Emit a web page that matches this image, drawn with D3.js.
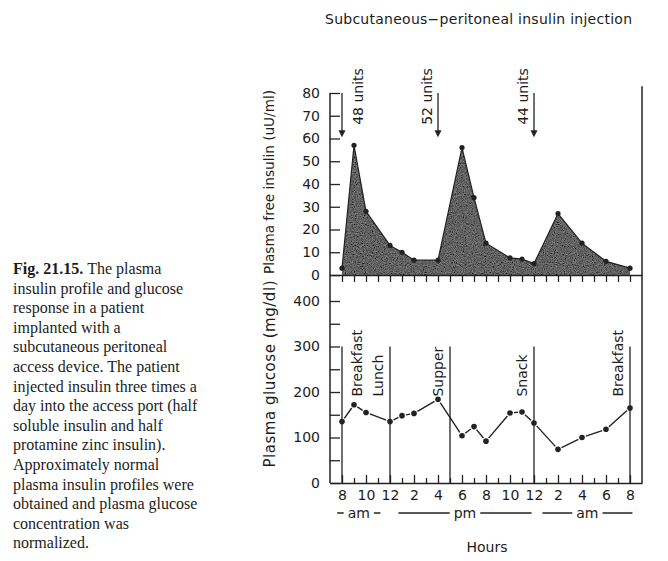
<!DOCTYPE html>
<html>
<head>
<meta charset="utf-8">
<script src="https://cdn.jsdelivr.net/npm/d3@7"></script>
<style>
  body { margin: 0; background: #fff; }
  svg { display: block; }
</style>
</head>
<body>
<script>
// insulin profile (top panel), hours counted from midnight of day 1
const insulinHours = [8, 9, 10, 12, 13, 14, 16, 18, 19, 20, 22, 23, 24, 26, 28, 30, 32];
const insulinValues = [3, 57, 28, 13, 10, 6.5, 6.5, 56, 34, 14, 7.5, 7, 5, 27, 14, 6, 3];

// glucose response (bottom panel)
const glucoseHours = [8, 9, 10, 12, 13, 14, 16, 18, 19, 20, 22, 23, 24, 26, 28, 30, 32];
const glucoseValues = [135, 172, 155, 135, 148, 153, 184, 104, 124, 92, 154, 156, 132, 74, 100, 118, 165];

const mealHours = [8, 12, 17, 24, 32];
const mealLabels = ["Breakfast", "Lunch", "Supper", "Snack", "Breakfast"];

const injectionHours = [8, 16, 24];
const injectionUnits = [48, 52, 44];

const hourTicks = [8, 10, 12, 14, 16, 18, 20, 22, 24, 26, 28, 30, 32];
const hourLabels = ["8", "10", "12", "2", "4", "6", "8", "10", "12", "2", "4", "6", "8"];

const periodLabels = ["am", "pm", "am"];
const periodStart = [7.6, 12.7, 24.7];
const periodEnd = [11.2, 23.8, 32.2];

const insulinTicks = [0, 10, 20, 30, 40, 50, 60, 70, 80];
const glucoseTicks = [0, 50, 100, 150, 200, 250, 300, 350, 400];

const captionLines = [
  "The plasma",
  "insulin profile and glucose",
  "response in a patient",
  "implanted with a",
  "subcutaneous peritoneal",
  "access device. The patient",
  "injected insulin three times a",
  "day into the access port (half",
  "soluble insulin and half",
  "protamine zinc insulin).",
  "Approximately normal",
  "plasma insulin profiles were",
  "obtained and plasma glucose",
  "concentration was",
  "normalized."
];

const W = 668, H = 561;
const font = "'DejaVu Sans', sans-serif";
const ink = "#1c1c1c";

const svg = d3.select("body").append("svg")
  .attr("width", W).attr("height", H)
  .style("background", "#fff");

// grainy print look for the shaded insulin area
const grain = svg.append("defs").append("filter")
  .attr("id", "grain")
  .attr("x", 0).attr("y", 0).attr("width", 1).attr("height", 1);
grain.append("feTurbulence")
  .attr("type", "fractalNoise").attr("baseFrequency", 0.9)
  .attr("numOctaves", 2).attr("seed", 4).attr("result", "noise");
grain.append("feColorMatrix")
  .attr("in", "noise").attr("type", "matrix")
  .attr("values", "0.33 0.33 0.33 0 0  0.33 0.33 0.33 0 0  0.33 0.33 0.33 0 0  0 0 0 0 1")
  .attr("result", "gray");
grain.append("feComposite")
  .attr("in", "gray").attr("in2", "SourceGraphic")
  .attr("operator", "arithmetic")
  .attr("k1", 0).attr("k2", 0.6).attr("k3", 0.8).attr("k4", -0.25)
  .attr("result", "mix");
grain.append("feComposite")
  .attr("in", "mix").attr("in2", "SourceGraphic").attr("operator", "in");

const x = d3.scaleLinear().domain([7, 33]).range([330, 642]);
const yIns = d3.scaleLinear().domain([0, 80]).range([275, 93]);
const yGlu = d3.scaleLinear().domain([0, 400]).range([483, 301]);

const insulin = insulinHours.map((h, i) => ({ h, v: insulinValues[i] }));
const glucose = glucoseHours.map((h, i) => ({ h, v: glucoseValues[i] }));

// title
svg.append("text")
  .attr("x", 325).attr("y", 24)
  .attr("font-family", font).attr("font-size", 14)
  .attr("textLength", 307).attr("lengthAdjust", "spacing")
  .attr("fill", ink)
  .text("Subcutaneous\u2212peritoneal insulin injection");

// caption
const cap = svg.append("text")
  .attr("font-family", "'Liberation Serif', serif")
  .attr("font-size", 16)
  .attr("fill", ink);
captionLines.forEach((line, i) => {
  const t = cap.append("tspan").attr("x", 13).attr("y", 274 + i * 19.6);
  if (i === 0) {
    t.append("tspan").attr("font-weight", "bold").text("Fig. 21.15. ");
  }
  t.append("tspan").text(line);
});

// insulin area
const area = d3.area()
  .x(d => x(d.h))
  .y0(yIns(0))
  .y1(d => yIns(d.v));
const line = d3.line()
  .x(d => x(d.h))
  .y(d => yIns(d.v));

svg.append("path")
  .datum(insulin)
  .attr("d", area)
  .attr("fill", "#555")
  .attr("filter", "url(#grain)");
svg.append("path")
  .datum(insulin)
  .attr("d", line)
  .attr("fill", "none")
  .attr("stroke", "#222")
  .attr("stroke-width", 1.2);

svg.append("g").selectAll("circle")
  .data(insulin)
  .join("circle")
  .attr("cx", d => x(d.h)).attr("cy", d => yIns(d.v))
  .attr("r", 2.6).attr("fill", "#222");

// axes frame
const axisColor = "#222";
svg.append("line")
  .attr("x1", x(7)).attr("x2", x(7))
  .attr("y1", yIns(80)).attr("y2", yGlu(0))
  .attr("stroke", axisColor).attr("stroke-width", 1.5);
svg.append("line")
  .attr("x1", x(33)).attr("x2", x(33))
  .attr("y1", yIns(83)).attr("y2", yGlu(0))
  .attr("stroke", axisColor).attr("stroke-width", 1.5);

function styleAxis(g) {
  g.attr("font-family", font).attr("font-size", 14);
  g.selectAll("line").attr("stroke", axisColor).attr("stroke-width", 1.3);
  g.selectAll("path").attr("stroke", axisColor).attr("stroke-width", 1.5);
  g.selectAll("text").attr("fill", ink);
}

svg.append("g")
  .attr("transform", `translate(${x(7)},0)`)
  .call(d3.axisLeft(yIns).tickValues(insulinTicks).tickSize(-10).tickPadding(10))
  .call(g => g.select(".domain").remove())
  .call(styleAxis);

svg.append("g")
  .attr("transform", `translate(${x(7)},0)`)
  .call(d3.axisLeft(yGlu).tickValues(glucoseTicks).tickSize(-10).tickPadding(10)
    .tickFormat(d => d % 100 === 0 ? d : ""))
  .call(g => g.select(".domain").remove())
  .call(styleAxis);

// middle axis (ticks down)
svg.append("g")
  .attr("transform", `translate(0,${yIns(0)})`)
  .call(d3.axisBottom(x).tickValues(d3.range(8, 33)).tickSize(7).tickSizeOuter(0).tickFormat(""))
  .call(styleAxis);

// bottom axis, major and minor ticks pointing up
svg.append("g")
  .attr("transform", `translate(0,${yGlu(0)})`)
  .call(d3.axisBottom(x).tickValues(hourTicks).tickSize(-8).tickSizeOuter(0).tickPadding(7)
    .tickFormat((d, i) => hourLabels[i]))
  .call(styleAxis);
svg.append("g")
  .attr("transform", `translate(0,${yGlu(0)})`)
  .call(d3.axisBottom(x).tickValues(hourTicks.slice(0, -1).map(h => h + 1)).tickSize(-5).tickFormat(""))
  .call(g => g.select(".domain").remove())
  .call(styleAxis);

// am / pm row
const periodY = 513;
periodLabels.forEach((lab, i) => {
  const x0 = x(periodStart[i]), x1 = x(periodEnd[i]);
  const cx = (x0 + x1) / 2;
  svg.append("line")
    .attr("x1", x0).attr("x2", x1)
    .attr("y1", periodY).attr("y2", periodY)
    .attr("stroke", axisColor).attr("stroke-width", 1.3);
  const t = svg.append("text")
    .attr("x", cx).attr("y", periodY + 5)
    .attr("text-anchor", "middle")
    .attr("font-family", font).attr("font-size", 14)
    .attr("fill", ink)
    .text(lab);
  const bb = t.node().getBBox();
  svg.insert("rect", () => t.node())
    .attr("x", bb.x - 4).attr("y", periodY - 3)
    .attr("width", bb.width + 8).attr("height", 6)
    .attr("fill", "#fff");
});

svg.append("text")
  .attr("x", 487).attr("y", 552)
  .attr("text-anchor", "middle")
  .attr("font-family", font).attr("font-size", 14)
  .attr("fill", ink)
  .text("Hours");

// y titles
svg.append("text")
  .attr("transform", `translate(274,${(yIns(0) + yIns(80)) / 2 - 2}) rotate(-90)`)
  .attr("text-anchor", "middle")
  .attr("font-family", font).attr("font-size", 14)
  .attr("textLength", 184).attr("lengthAdjust", "spacingAndGlyphs")
  .attr("fill", ink)
  .text("Plasma free insulin (uU/ml)");
svg.append("text")
  .attr("transform", `translate(275,374) rotate(-90)`)
  .attr("text-anchor", "middle")
  .attr("font-family", font).attr("font-size", 15)
  .attr("textLength", 187).attr("lengthAdjust", "spacing")
  .attr("fill", ink)
  .text("Plasma glucose (mg/dl)");

// injection arrows
injectionHours.forEach((h, i) => {
  const ax = x(h), top = yIns(80), tip = yIns(60.5);
  svg.append("line")
    .attr("x1", ax).attr("x2", ax)
    .attr("y1", top).attr("y2", tip - 6)
    .attr("stroke", axisColor).attr("stroke-width", 1.3);
  svg.append("path")
    .attr("d", `M${ax - 3.5},${tip - 7}L${ax + 3.5},${tip - 7}L${ax},${tip}Z`)
    .attr("fill", axisColor);
  const lx = i === 0 ? ax + 21 : ax - 6;
  svg.append("text")
    .attr("transform", `translate(${lx},${yIns(66)}) rotate(-90)`)
    .attr("font-family", font).attr("font-size", 14)
    .attr("fill", ink)
    .text(`${injectionUnits[i]} units`);
});

// meal lines
mealHours.forEach((h, i) => {
  const mx = x(h);
  svg.append("line")
    .attr("x1", mx).attr("x2", mx)
    .attr("y1", yGlu(300)).attr("y2", yGlu(0))
    .attr("stroke", axisColor).attr("stroke-width", 1.3);
  const lx = i === 0 ? mx + 20 : mx - 7;
  svg.append("text")
    .attr("transform", `translate(${lx},${yGlu(190)}) rotate(-90)`)
    .attr("font-family", font).attr("font-size", 14)
    .attr("fill", ink)
    .text(mealLabels[i]);
});

// glucose: broken segments between dots
const gap = 4;
const segs = svg.append("g");
d3.pairs(glucose).forEach(([a, b]) => {
  const x0 = x(a.h), y0 = yGlu(a.v), x1 = x(b.h), y1 = yGlu(b.v);
  const len = Math.hypot(x1 - x0, y1 - y0);
  const ux = (x1 - x0) / len, uy = (y1 - y0) / len;
  segs.append("line")
    .attr("x1", x0 + ux * gap).attr("y1", y0 + uy * gap)
    .attr("x2", x1 - ux * gap).attr("y2", y1 - uy * gap)
    .attr("stroke", axisColor).attr("stroke-width", 1.4);
});

svg.append("g").selectAll("circle")
  .data(glucose)
  .join("circle")
  .attr("cx", d => x(d.h)).attr("cy", d => yGlu(d.v))
  .attr("r", 2.8).attr("fill", "#222");
</script>
</body>
</html>
